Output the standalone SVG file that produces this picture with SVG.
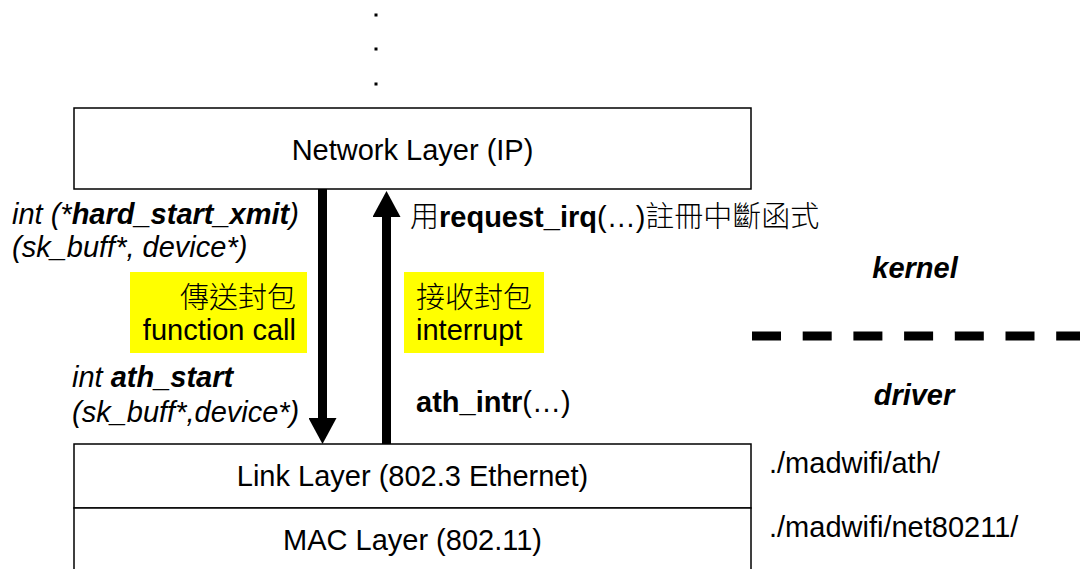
<svg xmlns="http://www.w3.org/2000/svg" width="1080" height="569" viewBox="0 0 1080 569">
  <defs>
    <style>
      .t { font-family: "Liberation Sans", Arial, "Noto Sans CJK TC", sans-serif; font-size: 29px; fill: #000; }
      .cjk { font-family: "Noto Sans CJK TC", "Liberation Sans", sans-serif; font-weight: 300; }
      .b { font-weight: bold; }
      .i { font-style: italic; }
      .box { fill: #fff; stroke: #000; stroke-width: 1.5; }
      .hl { fill: #ffff00; }
      .shaft { stroke: #000; stroke-width: 9; fill: none; }
    </style>
    <marker id="arrowhead" markerUnits="userSpaceOnUse" markerWidth="26" markerHeight="28" refX="0" refY="14" orient="auto" viewBox="0 0 26 28">
      <path d="M0,0 L26,14 L0,28 Z" fill="#000"/>
    </marker>
  </defs>

  <!-- continuation dots above the stack -->
  <g id="dots" fill="#000">
    <rect x="374.5" y="13.5" width="3" height="3"/>
    <rect x="374.5" y="47.5" width="3" height="3"/>
    <rect x="374.5" y="82.5" width="3" height="3"/>
  </g>

  <g id="network-layer">
    <rect class="box" x="74" y="108" width="677" height="81" stroke="#444"/>
    <text class="t" x="412.5" y="160" text-anchor="middle">Network Layer (IP)</text>
  </g>

  <g id="link-layer">
    <rect class="box" x="74" y="444" width="677" height="64"/>
    <text class="t" x="412.5" y="486" text-anchor="middle">Link Layer (802.3 Ethernet)</text>
  </g>

  <g id="mac-layer">
    <rect class="box" x="74" y="508" width="677" height="70"/>
    <text class="t" x="412.5" y="550" text-anchor="middle">MAC Layer (802.11)</text>
  </g>

  <g id="connectors">
    <!-- transmit path: down -->
    <path class="shaft" d="M322.5,189 L322.5,418" marker-end="url(#arrowhead)"/>
    <!-- receive path: up -->
    <path class="shaft" d="M386.5,444 L386.5,217" marker-end="url(#arrowhead)"/>
    <!-- kernel / driver boundary -->
    <line x1="752" y1="336" x2="1080" y2="336" stroke="#000" stroke-width="9" stroke-dasharray="29 21.7"/>
  </g>

  <g id="tx-labels">
    <text class="t i" x="12" y="224">int (*<tspan class="b">hard_start_xmit</tspan>)</text>
    <text class="t i" x="12" y="257">(sk_buff*, device*)</text>
    <rect class="hl" x="130" y="272" width="177" height="81"/>
    <text class="t cjk" x="296" y="308" text-anchor="end">傳送封包</text>
    <text class="t" x="296" y="340" text-anchor="end">function call</text>
    <text class="t i" x="72" y="387">int <tspan class="b">ath_start</tspan></text>
    <text class="t i" x="72" y="422">(sk_buff*,device*)</text>
  </g>

  <g id="rx-labels">
    <text class="t" x="410" y="227"><tspan class="cjk">用</tspan><tspan class="b">request_irq</tspan>(…)<tspan class="cjk">註冊中斷函式</tspan></text>
    <rect class="hl" x="404" y="272" width="140" height="81"/>
    <text class="t cjk" x="416" y="308">接收封包</text>
    <text class="t" x="416" y="340">interrupt</text>
    <text class="t" x="416" y="412"><tspan class="b">ath_intr</tspan>(…)</text>
  </g>

  <g id="domain-labels">
    <text class="t b i" x="915" y="278" text-anchor="middle">kernel</text>
    <text class="t b i" x="914" y="405" text-anchor="middle">driver</text>
    <text class="t" x="769" y="473">./madwifi/ath/</text>
    <text class="t" x="769" y="537">./madwifi/net80211/</text>
  </g>
</svg>
